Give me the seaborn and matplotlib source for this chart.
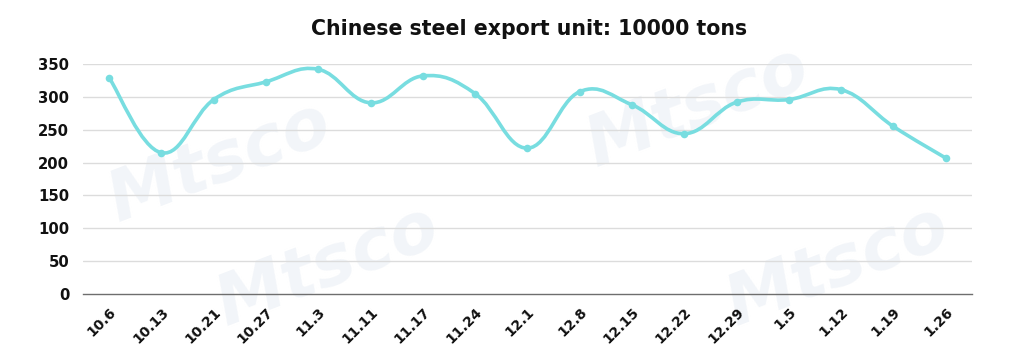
import numpy as np
import matplotlib
matplotlib.use("Agg")
import matplotlib.pyplot as plt
from matplotlib.path import Path
from matplotlib.patches import PathPatch
import seaborn as sns
import pandas as pd

dates = ["10.6", "10.13", "10.21", "10.27", "11.3", "11.11", "11.17", "11.24", "12.1",
         "12.8", "12.15", "12.22", "12.29", "1.5", "1.12", "1.19", "1.26"]
exports = [329, 215, 296, 323, 342, 291, 332, 305, 222, 308, 288, 244, 292, 296, 311, 255, 207]
yticks = [0, 50, 100, 150, 200, 250, 300, 350]
title = "Chinese steel export unit: 10000 tons"

LINE = "#78dde0"
sns.set_theme(style="white")
plt.rcParams["font.family"] = ["DejaVu Sans"]

fig = plt.figure(figsize=(10.1, 3.57), dpi=100)
ax = fig.add_axes([0.0822, 0.1765, 0.880, 0.644])

# faint watermarks behind everything
for (wx, wy) in [(0.218, 0.546), (0.691, 0.70), (0.325, 0.255), (0.83, 0.255)]:
    ax.text(wx, wy, "Mtsco", transform=fig.transFigure, fontsize=50, fontweight="bold",
            fontstyle="italic", color="#f2f5f9", rotation=21, ha="center", va="center",
            zorder=0, clip_on=False)

df = pd.DataFrame({"date": dates, "value": exports})
x = np.arange(len(dates))
y = np.array(exports, dtype=float)

# smooth curve through the points via cubic Bezier segments
verts = [(x[0], y[0])]
codes = [Path.MOVETO]
k = 0.2
n = len(x)
for i in range(n - 1):
    p0 = np.array([x[max(i - 1, 0)], y[max(i - 1, 0)]])
    p1 = np.array([x[i], y[i]])
    p2 = np.array([x[i + 1], y[i + 1]])
    p3 = np.array([x[min(i + 2, n - 1)], y[min(i + 2, n - 1)]])
    c1 = p1 + (p2 - p0) * k
    c2 = p2 - (p3 - p1) * k
    verts += [tuple(c1), tuple(c2), tuple(p2)]
    codes += [Path.CURVE4] * 3
ax.add_patch(PathPatch(Path(verts, codes), fill=False, edgecolor=LINE, lw=2.6,
                       capstyle="round", joinstyle="round", zorder=3))

sns.scatterplot(data=df, x="date", y="value", ax=ax, color=LINE, s=30,
                edgecolor=LINE, linewidth=0, zorder=4, legend=False)

ax.set_xlim(-0.5, len(dates) - 0.5)
ax.set_ylim(0, 350)
ax.set_yticks(yticks)
ax.set_yticklabels([str(t) for t in yticks], fontsize=10.7, fontweight="bold", color="#111111")
ax.set_xticks(x)
ax.set_xticklabels(dates, rotation=45, ha="right", rotation_mode="anchor",
                   fontsize=10, fontweight="bold", color="#111111")
ax.set_xlabel("")
ax.set_ylabel("")
ax.patch.set_alpha(0)
for t in yticks[1:]:
    ax.axhline(t, color="#dcdcdc", lw=1, zorder=1)
for s in ["top", "right", "left"]:
    ax.spines[s].set_visible(False)
ax.spines["bottom"].set_color("#6e6e6e")
ax.spines["bottom"].set_linewidth(1)
ax.tick_params(axis="y", length=0, pad=10)
ax.tick_params(axis="x", length=0, pad=8)

fig.text(0.524, 0.92, title, ha="center", va="center", fontsize=14.8, fontweight="bold",
         color="#111111")

fig.savefig("out.png", dpi=100)
